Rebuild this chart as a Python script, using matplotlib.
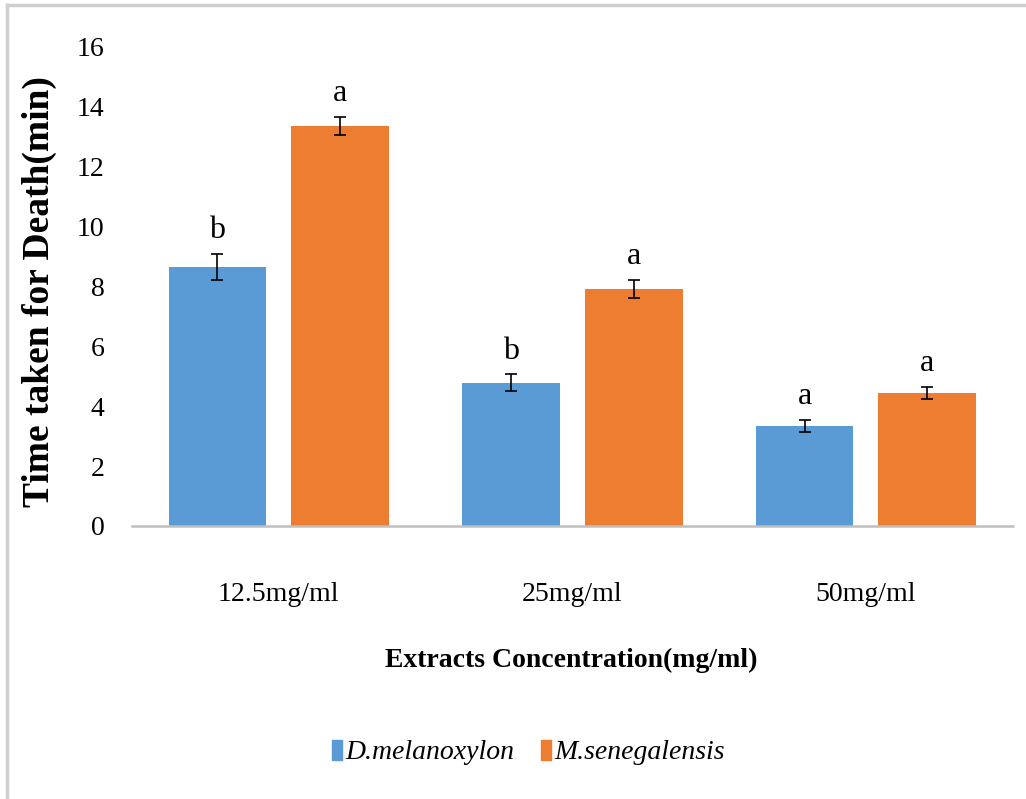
import matplotlib.pyplot as plt
import numpy as np
from matplotlib.lines import Line2D

# mean time to death (min) per extract concentration
concentrations = ['12.5mg/ml', '25mg/ml', '50mg/ml']
species = ['D.melanoxylon', 'M.senegalensis']
mel_time = [8.65, 4.78, 3.34]
mel_err = [0.45, 0.28, 0.20]
sen_time = [13.36, 7.92, 4.44]
sen_err = [0.30, 0.30, 0.20]
mel_letters = ['b', 'b', 'a']
sen_letters = ['a', 'a', 'a']

blue = '#5B9BD5'
orange = '#ED7D31'
plt.rcParams['font.family'] = ['Liberation Serif', 'DejaVu Serif']

fig = plt.figure(figsize=(10.26, 7.99), dpi=100)
ax = fig.add_axes([0.1287, 0.3417, 0.8583, 0.5995])

x = np.arange(len(concentrations))
w = 0.333
off = 0.209
err_kw = dict(ecolor='black', elinewidth=1.2, capsize=4, capthick=1.2)
ax.bar(x - off, mel_time, w, yerr=mel_err, color=blue, error_kw=err_kw, label=species[0])
ax.bar(x + off, sen_time, w, yerr=sen_err, color=orange, error_kw=err_kw, label=species[1])

# significance letters above the error bars
for i in range(len(x)):
    ax.text(x[i] - off, mel_time[i] + mel_err[i] + 0.3, mel_letters[i],
            ha='center', va='bottom', fontsize=23)
    ax.text(x[i] + off, sen_time[i] + sen_err[i] + 0.3, sen_letters[i],
            ha='center', va='bottom', fontsize=23)

ax.set_xlim(-0.5, 2.5)
ax.set_ylim(0, 16)
ax.set_yticks(range(0, 17, 2))
ax.set_xticks(x)
ax.set_xticklabels(concentrations)
ax.tick_params(axis='both', length=0, labelsize=20)
ax.tick_params(axis='x', pad=40)
ax.tick_params(axis='y', pad=20)
for s in ['top', 'right', 'left']:
    ax.spines[s].set_visible(False)
ax.spines['bottom'].set_color('#BFBFBF')
ax.spines['bottom'].set_linewidth(1.8)

ax.set_ylabel('Time taken for Death(min)', fontsize=27, fontweight='bold')
ax.yaxis.set_label_coords(-0.085, 0.49)
fig.text(0.557, 0.174, 'Extracts Concentration(mg/ml)', ha='center', va='center',
         fontsize=20, fontweight='bold')

# narrow upright swatches for the legend
swatch = [(-0.5, -1), (0.5, -1), (0.5, 1), (-0.5, 1), (-0.5, -1)]
handles = [Line2D([], [], marker=swatch, linestyle='none', markersize=14,
                  markerfacecolor=c, markeredgecolor=c) for c in (blue, orange)]
leg = fig.legend(handles, species, loc='center', bbox_to_anchor=(0.514, 0.058),
                 ncol=2, frameon=False, handletextpad=0.05, columnspacing=0.9,
                 handlelength=0.5, prop={'size': 20, 'style': 'italic'})

# light frame along the top and left edges
fig.add_artist(Line2D([0.007, 0.007], [0.0, 0.994], color='#CFCFCF', lw=2.5,
                      transform=fig.transFigure))
fig.add_artist(Line2D([0.007, 1.0], [0.994, 0.994], color='#CFCFCF', lw=2.5,
                      transform=fig.transFigure))

fig.savefig('out.png', dpi=100)
